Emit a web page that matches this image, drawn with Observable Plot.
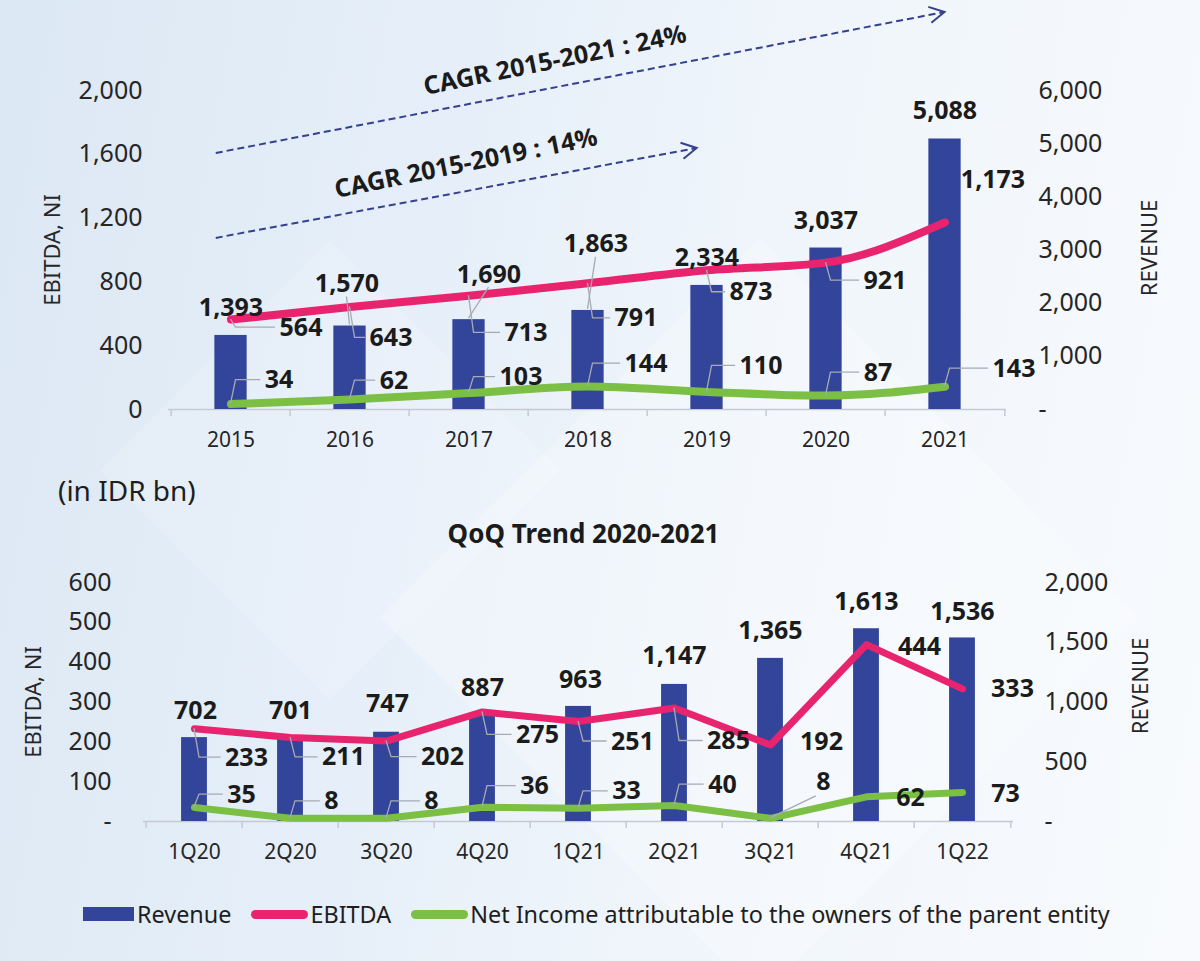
<!DOCTYPE html>
<html>
<head>
<meta charset="utf-8">
<script src="https://cdn.jsdelivr.net/npm/d3@7"></script>
<script src="https://cdn.jsdelivr.net/npm/@observablehq/plot@0.6"></script>
<style>
  html, body { margin: 0; padding: 0; }
  body { width: 1200px; height: 961px; overflow: hidden; font-family: 'Noto Sans', Roboto, sans-serif; color: #1b1b1b;
    background: linear-gradient(100deg, #dce8f4 0%, #e6eff9 35%, #f1f6fb 65%, #f8fafd 100%); }
  #wrap { position: relative; width: 1200px; height: 961px; }
  #bg { position: absolute; left: 0; top: 0; }
  #top { position: absolute; left: 0; top: 0; }
  #bottom { position: absolute; left: 0; top: 560px; }
  #unit { position: absolute; left: 58px; top: 473px; font-size: 28px; line-height: 34px; color: #1e1e1e; }
  #title2 { position: absolute; left: 0; width: 1167px; top: 518px; text-align: center; font-weight: 700; font-size: 26px; line-height: 30px; color: #1b1b1b; }
  #legend { position: absolute; left: 83px; top: 900px; height: 28px; display: flex; align-items: center; font-size: 23.4px; color: #1e1e1e; white-space: nowrap; }
  #legend .sw { display: inline-block; }
  #legend .bar { width: 51px; height: 14px; margin-right: 3px; }
  #legend .ln { width: 57px; height: 9px; border-radius: 5px; margin-left: 20px; margin-right: 2px; }
</style>
</head>
<body>
<div id="wrap">
  <svg id="bg" width="1200" height="961">
    <polygon points="100,470 330,240 560,470 330,700" fill="#ffffff" opacity="0.16"></polygon>
    <polygon points="380,617 760,237 1140,617 760,997" fill="#ffffff" opacity="0.25"></polygon>
  </svg>
  <div id="top"></div>
  <div id="unit">(in IDR bn)</div>
  <div id="title2">QoQ Trend 2020-2021</div>
  <div id="bottom"></div>
  <div id="legend">
    <span class="sw bar" id="lgRev"></span><span>Revenue</span>
    <span class="sw ln" id="lgEb"></span><span>EBITDA</span>
    <span class="sw ln" id="lgNi"></span><span>Net Income attributable to the owners of the parent entity</span>
  </div>
</div>
<script>
// ---------------- data ----------------
const years = ["2015", "2016", "2017", "2018", "2019", "2020", "2021"];
const revenueYear = [1393, 1570, 1690, 1863, 2334, 3037, 5088];
const ebitdaYear = [564, 643, 713, 791, 873, 921, 1173];
const netIncomeYear = [34, 62, 103, 144, 110, 87, 143];

const quarters = ["1Q20", "2Q20", "3Q20", "4Q20", "1Q21", "2Q21", "3Q21", "4Q21", "1Q22"];
const revenueQuarter = [702, 701, 747, 887, 963, 1147, 1365, 1613, 1536];
const ebitdaQuarter = [233, 211, 202, 275, 251, 285, 192, 444, 333];
const netIncomeQuarter = [35, 8, 8, 36, 33, 40, 8, 62, 73];

const leftTicksYear = [0, 400, 800, 1200, 1600, 2000];
const rightTicksYear = [0, 1000, 2000, 3000, 4000, 5000, 6000];
const leftTicksQuarter = [0, 100, 200, 300, 400, 500, 600];
const rightTicksQuarter = [0, 500, 1000, 1500, 2000];

const seriesNames = ["Revenue", "EBITDA", "Net Income attributable to the owners of the parent entity"];

// CAGR annotations (category + value on the EBITDA/NI axis)
const cagrText = ["CAGR 2015-2021 : 24%", "CAGR 2015-2019 : 14%"];
const cagrFrom = ["2015", "2015"];
const cagrTo = ["2021", "2019"];
const cagrStart = [1623, 1090];
const cagrEnd = [2489, 1648];
const cagrTextAt = ["2018", "2017"];
const cagrTextLevel = [2188, 1542];

// ---------------- styling / layout ----------------
const BLUE = "#33459b", PINK = "#e8246f", GREEN = "#7bbf45", INK = "#1b1b1b", AXIS = "#262626", BASE = "#c5c9d2", LEADER = "#a6aab2";
const FONT = "'Noto Sans', Roboto, sans-serif";
const fmt = d3.format(",");

document.getElementById("lgRev").style.background = BLUE;
document.getElementById("lgEb").style.background = PINK;
document.getElementById("lgNi").style.background = GREEN;

const measureCtx = document.createElement("canvas").getContext("2d");
function textWidth(s, font) { measureCtx.font = font; return measureCtx.measureText(s).width; }
const LABEL_FONT = `bold 25px ${FONT}`;

// label nudges in pixels [dx, dy]
const topNudges = {
  rev: [[0, -27], [-3, -42], [20, -45], [8, -66], [0, -27], [0, -27], [0, -28]],
  ebitda: [[70, 8], [41, 31], [57, 37], [48, 35], [44, 22], [59, 18], [48, -42]],
  ni: [[48, -24], [44, -19], [52, -16], [58, -23], [54, -26], [52, -23], [69, -18]]
};
const bottomNudges = {
  rev: [[1, -27], [0, -27], [1, -28], [0, -28], [2, -26], [0, -28], [0, -27], [0, -27], [0, -26]],
  ebitda: [[52, 29], [53, 20], [56, 16], [55, 23], [54, 20], [54, 33], [51, -3], [53, 2], [50, 0]],
  ni: [[47, -13], [41, -17], [45, -17], [52, -21], [48, -17], [48, -21], [53, -36], [44, 1], [43, 2]]
};

function leaderMark(rows, getY, nudges) {
  return (index, scales) => {
    const x = scales.x, y = scales.y;
    const off = x.bandwidth ? x.bandwidth() / 2 : 0;
    const g = d3.create("svg:g").attr("fill", "none").attr("stroke", LEADER).attr("stroke-width", 1.3);
    rows.forEach((d, i) => {
      const [dx, dy] = nudges[i];
      if (Math.abs(dy) < 8) return;
      const px = x(d.cat) + off, py = y(getY(d));
      const lx = px + dx, ly = py + dy;
      const tw = textWidth(fmt(getY(d)), LABEL_FONT);
      const left = lx - tw / 2 - 4;
      if (left - px < 12) return;
      let p;
      if (dy < -30) p = `M${px},${py}L${left + 4},${ly + 14}`;
      else p = `M${px},${py}L${px + 5},${ly}L${left},${ly}`;
      g.append("path").attr("d", p);
    });
    return g.node();
  };
}

function revLeaderMark(rows, ratio, nudges) {
  return (index, scales) => {
    const x = scales.x, y = scales.y;
    const off = x.bandwidth ? x.bandwidth() / 2 : 0;
    const g = d3.create("svg:g").attr("fill", "none").attr("stroke", LEADER).attr("stroke-width", 1.3);
    rows.forEach((d, i) => {
      const [dx, dy] = nudges[i];
      if (dy > -35) return;
      const px = x(d.cat) + off, py = y(d.rev * ratio);
      g.append("path").attr("d", `M${px + dx},${py + dy + 13}L${px},${py - 1}`);
    });
    return g.node();
  };
}

function cagrMark(i, extStart, extEnd) {
  return (index, scales) => {
    const x = scales.x, y = scales.y;
    const off = x.bandwidth ? x.bandwidth() / 2 : 0;
    let x1 = x(cagrFrom[i]) + off, y1 = y(cagrStart[i]);
    let x2 = x(cagrTo[i]) + off, y2 = y(cagrEnd[i]);
    const a = Math.atan2(y2 - y1, x2 - x1);
    x1 -= extStart * Math.cos(a); y1 -= extStart * Math.sin(a);
    x2 += extEnd * Math.cos(a); y2 += extEnd * Math.sin(a);
    const g = d3.create("svg:g").attr("fill", "none").attr("stroke", "#34418c").attr("stroke-width", 2);
    g.append("path").attr("d", `M${x1},${y1}L${x2},${y2}`).attr("stroke-dasharray", "7,4");
    const h = 17, wing = 0.5;
    g.append("path").attr("d",
      `M${x2 - h * Math.cos(a - wing)},${y2 - h * Math.sin(a - wing)}L${x2},${y2}L${x2 - h * Math.cos(a + wing)},${y2 - h * Math.sin(a + wing)}`)
      .attr("stroke-linejoin", "miter");
    return g.node();
  };
}

function panel(cfg) {
  const {cats, rev, ebitda, ni, leftMax, rightMax, leftTicks, rightTicks, zeroLeft,
    height, mt, mb, ml, mr, barW, lineW, curve, nudges, leftPad, rightPad, leftTitleDx, rightTitleDx, rightTitleDy, extra} = cfg;
  const W = 1200, n = cats.length;
  const bw = (W - ml - mr) / n;
  const ratio = leftMax / rightMax;
  const rows = cats.map((c, i) => ({cat: c, rev: rev[i], ebitda: ebitda[i], ni: ni[i]}));
  const inset = (bw - barW) / 2;
  const lab = {fontSize: 25, fontWeight: "bold", fill: INK, fontFamily: FONT};

  const marks = [
    Plot.ruleY([0], {stroke: BASE, strokeWidth: 1.5}),
    Plot.ruleX(cats, {x: d => d, y1: 0, y2: 0, insetBottom: -7, dx: -bw / 2, stroke: BASE, strokeWidth: 1.5}),
    Plot.ruleX([cats[n - 1]], {x: d => d, y1: 0, y2: 0, insetBottom: -7, dx: bw / 2, stroke: BASE, strokeWidth: 1.5}),
    Plot.barY(rows, {x: "cat", y: d => d.rev * ratio, fill: BLUE, insetLeft: inset, insetRight: inset}),
    ...(extra || []),
    Plot.line(rows, {x: "cat", y: "ebitda", stroke: PINK, strokeWidth: lineW, curve, strokeLinecap: "round", strokeLinejoin: "round"}),
    Plot.line(rows, {x: "cat", y: "ni", stroke: GREEN, strokeWidth: lineW, curve, strokeLinecap: "round", strokeLinejoin: "round"}),
    leaderMark(rows, d => d.ebitda, nudges.ebitda),
    leaderMark(rows, d => d.ni, nudges.ni),
    revLeaderMark(rows, ratio, nudges.rev),
    ...rows.map((d, i) => Plot.text([d], {x: "cat", y: r => r.rev * ratio, text: r => fmt(r.rev), dx: nudges.rev[i][0], dy: nudges.rev[i][1], ...lab})),
    ...rows.map((d, i) => Plot.text([d], {x: "cat", y: "ebitda", text: r => fmt(r.ebitda), dx: nudges.ebitda[i][0], dy: nudges.ebitda[i][1], ...lab})),
    ...rows.map((d, i) => Plot.text([d], {x: "cat", y: "ni", text: r => fmt(r.ni), dx: nudges.ni[i][0], dy: nudges.ni[i][1], ...lab})),
    Plot.axisX({tickSize: 0, tickPadding: 23, fontSize: 21, color: AXIS, label: null}),
    Plot.axisY(leftTicks, {anchor: "left", tickSize: 0, tickPadding: leftPad, fontSize: 25, color: AXIS, label: null,
      tickFormat: v => v === 0 ? zeroLeft : fmt(v)}),
    Plot.axisY(rightTicks.map(v => v * ratio), {anchor: "right", tickSize: 0, tickPadding: rightPad, fontSize: 25, color: AXIS, label: null,
      tickFormat: v => { const r = Math.round(v / ratio); return r === 0 ? "-" : fmt(r); }}),
    Plot.text(["EBITDA, NI"], {text: d => d, frameAnchor: "left", dx: leftTitleDx, rotate: -90, textAnchor: "middle", fontSize: 22, fill: AXIS}),
    Plot.text(["REVENUE"], {text: d => d, frameAnchor: "right", dx: rightTitleDx, dy: rightTitleDy, rotate: -90, textAnchor: "middle", fontSize: 22, fill: AXIS})
  ];

  return Plot.plot({
    width: W, height,
    marginTop: mt, marginBottom: mb, marginLeft: ml, marginRight: mr,
    x: {type: "band", domain: cats, padding: 0, axis: null},
    y: {domain: [0, leftMax], axis: null},
    style: {background: "transparent", fontFamily: FONT, color: AXIS, overflow: "visible"},
    marks
  });
}

// CAGR overlay marks for the annual panel
const cagrMarks = [
  cagrMark(0, 15, 0),
  cagrMark(1, 15, -10),
  Plot.text([0], {x: () => cagrTextAt[0], y: () => cagrTextLevel[0], text: () => cagrText[0], dx: -33, rotate: -11.5, fontSize: 25, fontWeight: "bold", fill: INK}),
  Plot.text([1], {x: () => cagrTextAt[1], y: () => cagrTextLevel[1], text: () => cagrText[1], dx: -3, rotate: -11.5, fontSize: 25, fontWeight: "bold", fill: INK})
];

const topChart = panel({
  cats: years, rev: revenueYear, ebitda: ebitdaYear, ni: netIncomeYear,
  leftMax: 2000, rightMax: 6000, leftTicks: leftTicksYear, rightTicks: rightTicksYear, zeroLeft: "0",
  height: 470, mt: 90, mb: 61, ml: 168, mr: 194, barW: 33, lineW: 8, curve: "monotone-x",
  nudges: topNudges, leftPad: 26, rightPad: 32, leftTitleDx: -116, rightTitleDx: 143, rightTitleDy: -2,
  extra: cagrMarks
});
document.getElementById("top").appendChild(topChart);

const bottomChart = panel({
  cats: quarters, rev: revenueQuarter, ebitda: ebitdaQuarter, ni: netIncomeQuarter,
  leftMax: 600, rightMax: 2000, leftTicks: leftTicksQuarter, rightTicks: rightTicksQuarter, zeroLeft: "-",
  height: 320, mt: 22, mb: 59, ml: 143, mr: 187, barW: 26.5, lineW: 7, curve: "linear",
  nudges: bottomNudges, leftPad: 32, rightPad: 31, leftTitleDx: -110, rightTitleDx: 127, rightTitleDy: -16,
  extra: []
});
document.getElementById("bottom").appendChild(bottomChart);
</script>
</body>
</html>
